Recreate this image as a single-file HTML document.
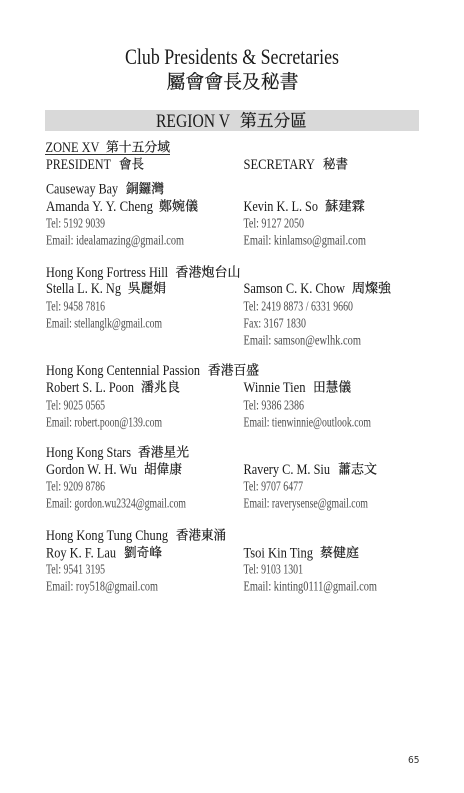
<!DOCTYPE html>
<html lang="zh-Hant">
<head>
<meta charset="utf-8">
<title>Club Presidents &amp; Secretaries</title>
<style>
html,body{margin:0;padding:0;background:#fff;width:464px;height:793px;overflow:hidden}
svg{display:block;position:absolute;left:0;top:0}
text{font-family:"Liberation Serif","Noto Serif CJK SC",serif;fill:#1a1a1a}
.z{font-family:"Noto Serif CJK SC","Liberation Serif",serif;stroke:#1a1a1a;stroke-width:.22px}
.h{font-size:15px}
.c{font-size:13px}
.s{font-size:13.5px;fill:#4a4a4a;transform:translateY(.6px)}
#t{filter:blur(0.35px)}
</style>
</head>
<body>
<svg width="464" height="793" viewBox="0 0 464 793">
<g id="t">
<text x="125" y="64" font-size="22" textLength="214" lengthAdjust="spacingAndGlyphs">Club Presidents &amp; Secretaries</text>
<text class="z" x="166.5" y="88" font-size="19" textLength="132" lengthAdjust="spacingAndGlyphs">屬會會長及秘書</text>

<rect x="45" y="110" width="374" height="21" fill="#d9d9d9"/>
<text x="156" y="127" font-size="19" textLength="74" lengthAdjust="spacingAndGlyphs">REGION V</text>
<text class="z" x="240" y="126.5" font-size="17" textLength="67" lengthAdjust="spacingAndGlyphs">第五分區</text>

<text class="h" x="45.5" y="152" textLength="54" lengthAdjust="spacingAndGlyphs">ZONE XV</text>
<text class="z c" x="106" y="151.5" textLength="64" lengthAdjust="spacingAndGlyphs">第十五分域</text>
<rect x="45" y="154" width="125" height="1" fill="#333"/>

<text class="h" x="46" y="169" textLength="65" lengthAdjust="spacingAndGlyphs">PRESIDENT</text>
<text class="z c" x="119" y="168.5" textLength="25" lengthAdjust="spacingAndGlyphs">會長</text>
<text class="h" x="243.5" y="169" textLength="71.5" lengthAdjust="spacingAndGlyphs">SECRETARY</text>
<text class="z c" x="323" y="168.5" textLength="25" lengthAdjust="spacingAndGlyphs">秘書</text>

<text class="h" x="46" y="193.5" textLength="72" lengthAdjust="spacingAndGlyphs">Causeway Bay</text>
<text class="z c" x="126" y="193" textLength="38" lengthAdjust="spacingAndGlyphs">銅鑼灣</text>
<text class="h" x="46" y="211" textLength="107" lengthAdjust="spacingAndGlyphs">Amanda Y. Y. Cheng</text>
<text class="z c" x="159" y="210.5" textLength="39" lengthAdjust="spacingAndGlyphs">鄭婉儀</text>
<text class="h" x="243.5" y="211" textLength="74.5" lengthAdjust="spacingAndGlyphs">Kevin K. L. So</text>
<text class="z c" x="325" y="210.5" textLength="40" lengthAdjust="spacingAndGlyphs">蘇建霖</text>
<text class="s" x="46" y="227" textLength="59" lengthAdjust="spacingAndGlyphs">Tel: 5192 9039</text>
<text class="s" x="243.5" y="227" textLength="60.5" lengthAdjust="spacingAndGlyphs">Tel: 9127 2050</text>
<text class="s" x="46" y="244" textLength="138" lengthAdjust="spacingAndGlyphs">Email: idealamazing@gmail.com</text>
<text class="s" x="243.5" y="244" textLength="122.5" lengthAdjust="spacingAndGlyphs">Email: kinlamso@gmail.com</text>

<text class="h" x="46" y="277" textLength="122" lengthAdjust="spacingAndGlyphs">Hong Kong Fortress Hill</text>
<text class="z c" x="175.5" y="276.5" textLength="65" lengthAdjust="spacingAndGlyphs">香港炮台山</text>
<text class="h" x="46" y="293" textLength="75" lengthAdjust="spacingAndGlyphs">Stella L. K. Ng</text>
<text class="z c" x="128" y="292.5" textLength="38" lengthAdjust="spacingAndGlyphs">吳麗娟</text>
<text class="h" x="243.5" y="293" textLength="101.5" lengthAdjust="spacingAndGlyphs">Samson C. K. Chow</text>
<text class="z c" x="352" y="292.5" textLength="39" lengthAdjust="spacingAndGlyphs">周燦強</text>
<text class="s" x="46" y="310" textLength="59" lengthAdjust="spacingAndGlyphs">Tel: 9458 7816</text>
<text class="s" x="243.5" y="310" textLength="109.5" lengthAdjust="spacingAndGlyphs">Tel: 2419 8873 / 6331 9660</text>
<text class="s" x="46" y="327" textLength="116" lengthAdjust="spacingAndGlyphs">Email: stellanglk@gmail.com</text>
<text class="s" x="243.5" y="327" textLength="62.5" lengthAdjust="spacingAndGlyphs">Fax: 3167 1830</text>
<text class="s" x="243.5" y="344" textLength="117.5" lengthAdjust="spacingAndGlyphs">Email: samson@ewlhk.com</text>

<text class="h" x="46" y="375" textLength="154" lengthAdjust="spacingAndGlyphs">Hong Kong Centennial Passion</text>
<text class="z c" x="208" y="374.5" textLength="51" lengthAdjust="spacingAndGlyphs">香港百盛</text>
<text class="h" x="46" y="392" textLength="88" lengthAdjust="spacingAndGlyphs">Robert S. L. Poon</text>
<text class="z c" x="141" y="391.5" textLength="39" lengthAdjust="spacingAndGlyphs">潘兆良</text>
<text class="h" x="243.5" y="392" textLength="62" lengthAdjust="spacingAndGlyphs">Winnie Tien</text>
<text class="z c" x="313" y="391.5" textLength="38" lengthAdjust="spacingAndGlyphs">田慧儀</text>
<text class="s" x="46" y="409" textLength="59" lengthAdjust="spacingAndGlyphs">Tel: 9025 0565</text>
<text class="s" x="243.5" y="409" textLength="60.5" lengthAdjust="spacingAndGlyphs">Tel: 9386 2386</text>
<text class="s" x="46" y="426" textLength="116" lengthAdjust="spacingAndGlyphs">Email: robert.poon@139.com</text>
<text class="s" x="243.5" y="426" textLength="127.5" lengthAdjust="spacingAndGlyphs">Email: tienwinnie@outlook.com</text>

<text class="h" x="46" y="457" textLength="85" lengthAdjust="spacingAndGlyphs">Hong Kong Stars</text>
<text class="z c" x="138" y="456.5" textLength="51" lengthAdjust="spacingAndGlyphs">香港星光</text>
<text class="h" x="46" y="474" textLength="91" lengthAdjust="spacingAndGlyphs">Gordon W. H. Wu</text>
<text class="z c" x="144" y="473.5" textLength="38" lengthAdjust="spacingAndGlyphs">胡偉康</text>
<text class="h" x="243.5" y="474" textLength="86.5" lengthAdjust="spacingAndGlyphs">Ravery C. M. Siu</text>
<text class="z c" x="338" y="473.5" textLength="39" lengthAdjust="spacingAndGlyphs">蕭志文</text>
<text class="s" x="46" y="490" textLength="59" lengthAdjust="spacingAndGlyphs">Tel: 9209 8786</text>
<text class="s" x="243.5" y="490" textLength="59.5" lengthAdjust="spacingAndGlyphs">Tel: 9707 6477</text>
<text class="s" x="46" y="507" textLength="140" lengthAdjust="spacingAndGlyphs">Email: gordon.wu2324@gmail.com</text>
<text class="s" x="243.5" y="507" textLength="124.5" lengthAdjust="spacingAndGlyphs">Email: raverysense@gmail.com</text>

<text class="h" x="46" y="540" textLength="122" lengthAdjust="spacingAndGlyphs">Hong Kong Tung Chung</text>
<text class="z c" x="176" y="539.5" textLength="50" lengthAdjust="spacingAndGlyphs">香港東涌</text>
<text class="h" x="46" y="557.5" textLength="70" lengthAdjust="spacingAndGlyphs">Roy K. F. Lau</text>
<text class="z c" x="124" y="557" textLength="38" lengthAdjust="spacingAndGlyphs">劉奇峰</text>
<text class="h" x="243.5" y="557.5" textLength="69.5" lengthAdjust="spacingAndGlyphs">Tsoi Kin Ting</text>
<text class="z c" x="320" y="557" textLength="39" lengthAdjust="spacingAndGlyphs">蔡健庭</text>
<text class="s" x="46" y="573" textLength="59" lengthAdjust="spacingAndGlyphs">Tel: 9541 3195</text>
<text class="s" x="243.5" y="573" textLength="59.5" lengthAdjust="spacingAndGlyphs">Tel: 9103 1301</text>
<text class="s" x="46" y="590" textLength="112" lengthAdjust="spacingAndGlyphs">Email: roy518@gmail.com</text>
<text class="s" x="243.5" y="590" textLength="133.5" lengthAdjust="spacingAndGlyphs">Email: kinting0111@gmail.com</text>

<text x="408" y="763" font-size="10" textLength="11.5" lengthAdjust="spacingAndGlyphs" style="font-family:'DejaVu Sans',sans-serif;fill:#333">65</text>
</g>
</svg>
</body>
</html>
